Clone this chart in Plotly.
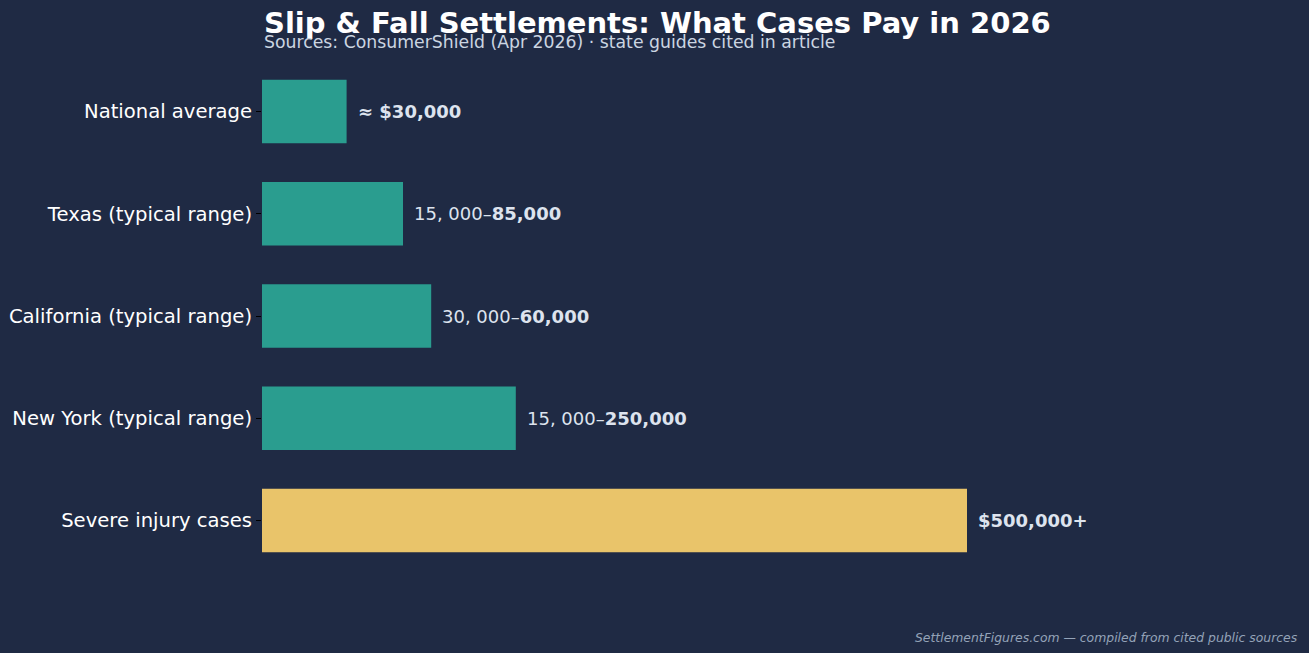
import plotly.graph_objects as go

categories = ["National average", "Texas (typical range)", "California (typical range)",
              "New York (typical range)", "Severe injury cases"]
values = [30000, 50000, 60000, 90000, 250000]
labels = ["≈ $30,000", "15, 000–<b>85,000</b>", "30, 000–<b>60,000</b>",
          "15, 000–<b>250,000</b>", "<b>$500,000+</b>"]
label_bold = [True, False, False, False, True]
colors = ["#2a9d8f", "#2a9d8f", "#2a9d8f", "#2a9d8f", "#e9c46a"]

BG = "#1f2a44"
W, H = 1309, 653
T, B, L, R = 60, 53, 262, 9
plot_h = H - T - B

fig = go.Figure()
fig.add_trace(go.Bar(
    y=categories, x=values, orientation="h",
    marker=dict(color=colors, line=dict(width=0)),
    width=0.62, hoverinfo="skip",
))

for cat, v, lab, bold in zip(categories, values, labels, label_bold):
    text = f"<b>{lab}</b>" if bold and not lab.startswith("<b>") else lab
    fig.add_annotation(x=v, y=cat, xref="x", yref="y", text=text,
                       showarrow=False, xanchor="left", yanchor="middle", xshift=9,
                       font=dict(family="DejaVu Sans", size=18, color="#dde3ee"))

def py(p):
    return (H - B - p) / plot_h

fig.add_annotation(x=0, xref="paper", y=py(23), yref="paper",
                   text="<b>Slip & Fall Settlements: What Cases Pay in 2026</b>",
                   showarrow=False, xanchor="left", yanchor="middle",
                   font=dict(family="DejaVu Sans", size=29, color="#ffffff"))
fig.add_annotation(x=0, xref="paper", y=py(42), yref="paper",
                   text="Sources: ConsumerShield (Apr 2026) · state guides cited in article",
                   showarrow=False, xanchor="left", yanchor="middle",
                   font=dict(family="DejaVu Sans", size=17.3, color="#cbd5e1"))
fig.add_annotation(x=(1300 - L) / (W - L - R), xref="paper", y=py(637), yref="paper",
                   text="<i>SettlementFigures.com — compiled from cited public sources</i>",
                   showarrow=False, xanchor="right", yanchor="middle",
                   font=dict(family="DejaVu Sans", size=12.4, color="#94a3b8"))

px_per_unit = 705 / 250000
x_max = (W - L - R) / px_per_unit
y_top = (T - 111.5) / 102.25
y_bot = (H - B - 111.5) / 102.25

fig.update_layout(
    width=W, height=H,
    margin=dict(l=L, r=R, t=T, b=B, pad=0),
    paper_bgcolor=BG, plot_bgcolor=BG,
    showlegend=False,
    font=dict(family="DejaVu Sans", color="#ffffff"),
    xaxis=dict(range=[0, x_max], visible=False, showgrid=False, zeroline=False),
    yaxis=dict(type="category", categoryorder="array", categoryarray=categories,
               range=[y_bot, y_top], showgrid=False, zeroline=False, showline=False,
               ticks="outside", ticklen=5, tickcolor="#000000", tickwidth=1,
               tickfont=dict(family="DejaVu Sans", size=19.6, color="#ffffff")),
)

fig.write_html("out.html")
